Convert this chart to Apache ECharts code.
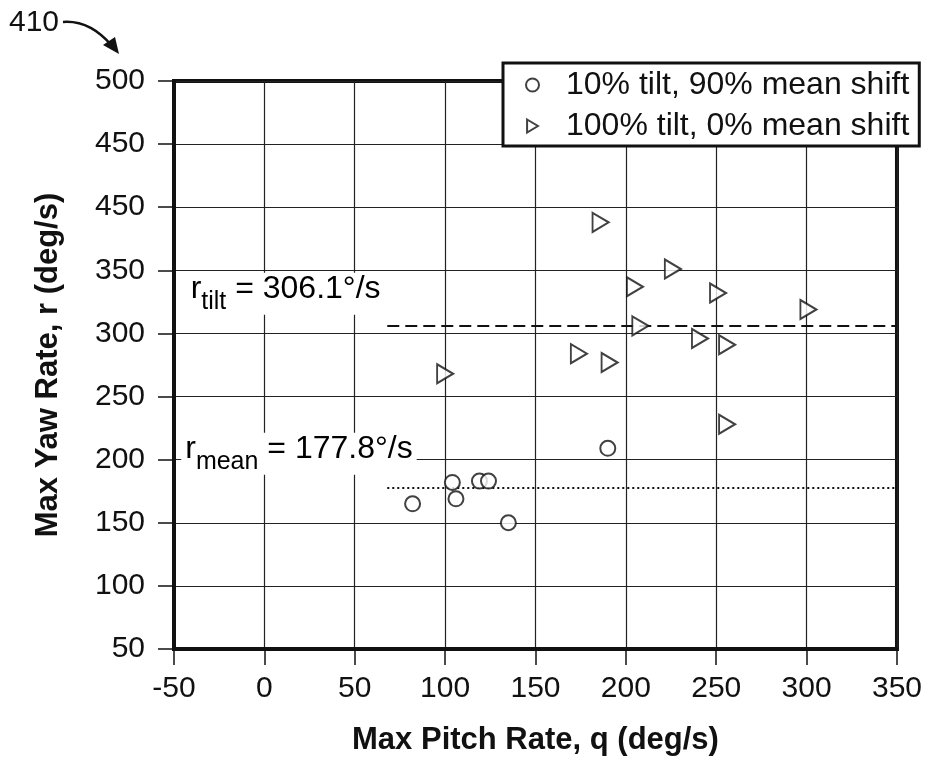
<!DOCTYPE html>
<html>
<head>
<meta charset="utf-8">
<script src="https://cdn.jsdelivr.net/npm/echarts@6/dist/echarts.min.js"></script>
<style>
  html, body { margin: 0; padding: 0; background: #fff; }
  #main { width: 925px; height: 768px; }
</style>
</head>
<body>
<div id="main"></div>
<script>
// data
var circleX = [82, 104, 106, 119, 124, 135, 190];
var circleY = [165, 182, 169, 183, 183, 150, 209];
var triX = [100, 186, 205, 208, 174, 191, 226, 251, 301, 241, 256, 256];
var triY = [268, 388, 337, 306, 284, 277, 351, 332, 319, 296, 291, 228];
var seriesNames = ['10% tilt, 90% mean shift', '100% tilt, 0% mean shift'];
var rTilt = 306.1;
var rMean = 177.8;
var refLineStart = 68;
var xTickLabels = ['-50', '0', '50', '100', '150', '200', '250', '300', '350'];
// the original figure prints 450 twice (at 400 and 450)
var yTickLabels = ['50', '100', '150', '200', '250', '300', '350', '450', '450', '500'];

var FONT = "'Liberation Sans', Arial, sans-serif";
var TRI = 'path://M0,0 L10,6 L0,12 Z';

function zip(xs, ys) {
  return xs.map(function (x, i) { return [x, ys[i]]; });
}

var chart = echarts.init(document.getElementById('main'), null, { renderer: 'canvas' });

var option = {
  backgroundColor: '#fff',
  animation: false,
  grid: {
    left: 174, right: 28, top: 81, bottom: 119,
    show: true, borderColor: '#111', borderWidth: 4
  },
  legend: {
    data: seriesNames,
    orient: 'vertical',
    left: 503,
    top: 63,
    backgroundColor: '#fff',
    borderColor: '#111',
    borderWidth: 3,
    padding: [6, 10, 4, 22],
    itemGap: 9,
    itemWidth: 13,
    itemHeight: 13,
    textStyle: { fontSize: 32, fontFamily: FONT, color: '#111', padding: [0, 0, 0, 22] }
  },
  xAxis: {
    type: 'value',
    min: -50, max: 350, interval: 50,
    name: 'Max Pitch Rate, q (deg/s)',
    nameLocation: 'middle',
    nameGap: 76,
    nameTextStyle: { fontSize: 31, fontWeight: 'bold', fontFamily: FONT, color: '#111' },
    axisLine: { show: true, onZero: false, lineStyle: { color: '#111', width: 4 } },
    axisTick: { show: true, length: 16, lineStyle: { color: '#111', width: 1.5 } },
    axisLabel: {
      margin: 25, fontSize: 30, fontFamily: FONT, color: '#111',
      formatter: function (v) { return xTickLabels[Math.round((v + 50) / 50)]; }
    },
    splitLine: { show: true, lineStyle: { color: '#222', width: 1.2 } }
  },
  yAxis: {
    type: 'value',
    min: 50, max: 500, interval: 50,
    name: 'Max Yaw Rate, r (deg/s)',
    nameLocation: 'middle',
    nameGap: 110,
    nameTextStyle: { fontSize: 31, fontWeight: 'bold', fontFamily: FONT, color: '#111' },
    axisLine: { show: true, onZero: false, lineStyle: { color: '#111', width: 4 } },
    axisTick: { show: true, length: 16, lineStyle: { color: '#111', width: 1.5 } },
    axisLabel: {
      margin: 29, fontSize: 30, fontFamily: FONT, color: '#111',
      formatter: function (v) { return yTickLabels[Math.round((v - 50) / 50)]; }
    },
    splitLine: { show: true, lineStyle: { color: '#222', width: 1.2 } }
  },
  series: [
    {
      name: seriesNames[0],
      type: 'scatter',
      symbol: 'circle',
      symbolSize: 15,
      z: 5,
      itemStyle: { color: '#fff', borderColor: '#111', borderWidth: 2 },
      data: zip(circleX, circleY),
      markLine: {
        silent: true, symbol: 'none', label: { show: false },
        lineStyle: { color: '#111', type: [2, 3], width: 2 },
        data: [[{ coord: [refLineStart, rMean] }, { coord: [350, rMean] }]]
      }
    },
    {
      name: seriesNames[1],
      type: 'scatter',
      symbol: TRI,
      symbolSize: [16, 19],
      z: 5,
      itemStyle: { color: '#fff', borderColor: '#111', borderWidth: 2 },
      data: zip(triX, triY),
      markLine: {
        silent: true, symbol: 'none', label: { show: false },
        lineStyle: { color: '#111', type: [12, 6], width: 2 },
        data: [[{ coord: [refLineStart, rTilt] }, { coord: [350, rTilt] }]]
      }
    }
  ]
};

chart.setOption(option);

// annotation texts for the two reference lines, placed via the axes
var pTilt = chart.convertToPixel({ gridIndex: 0 }, [-43, rTilt]);
var pMean = chart.convertToPixel({ gridIndex: 0 }, [-46, rMean]);

function refLabel(sub, rest) {
  return {
    text: '{r|r}{s|' + sub + '}{r| = ' + rest + '}',
    backgroundColor: '#fff',
    padding: [0, 4, 0, 4],
    rich: {
      r: { fontSize: 32, fontFamily: FONT, color: '#111', lineHeight: 42, verticalAlign: 'top' },
      s: { fontSize: 25, fontFamily: FONT, color: '#111', lineHeight: 42, verticalAlign: 'bottom' }
    }
  };
}

chart.setOption({
  graphic: [
    {
      type: 'text', z: 1,
      x: pTilt[0], y: pTilt[1] - 53,
      style: refLabel('tilt', rTilt.toFixed(1) + '°/s')
    },
    {
      type: 'text', z: 1,
      x: pMean[0], y: pMean[1] - 55,
      style: refLabel('mean', rMean.toFixed(1) + '°/s')
    },
    {
      type: 'text', x: 9, y: 8,
      style: { text: '410', fontSize: 30, fontFamily: FONT, fill: '#111' }
    },
    {
      type: 'bezierCurve',
      shape: { x1: 63, y1: 22, cpx1: 90, cpy1: 20, x2: 112, y2: 46 },
      style: { stroke: '#111', lineWidth: 2.5, fill: null }
    },
    {
      type: 'polygon',
      shape: { points: [[103, 45], [119, 54], [115, 37]] },
      style: { fill: '#111' }
    }
  ]
});
</script>
</body>
</html>
